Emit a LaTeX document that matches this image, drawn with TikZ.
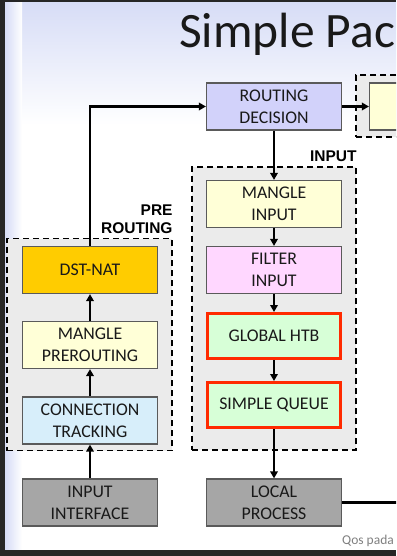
\documentclass[tikz,border=0pt]{standalone}
\usepackage{fontspec}
\setmainfont{Carlito}
\newfontfamily\labelfont{Liberation Sans}
\usetikzlibrary{arrows.meta,positioning}
\definecolor{FrameDark}{HTML}{262626}
\definecolor{SlideTint}{HTML}{D6DCF6}
\definecolor{GroupBg}{HTML}{EBEBEB}
\definecolor{RouteFill}{HTML}{D2D2FA}
\definecolor{MangleFill}{HTML}{FFFFD7}
\definecolor{FilterFill}{HTML}{FFD7FF}
\definecolor{QueueFill}{HTML}{D7FFD7}
\definecolor{NatFill}{HTML}{FFCC00}
\definecolor{TrackFill}{HTML}{D7EEFA}
\definecolor{PortFill}{HTML}{A6A6A6}
\definecolor{QueueRed}{HTML}{FF2A00}
\definecolor{BoxEdge}{HTML}{5A5A5A}
\tikzset{
  qf box/.style={
    draw=BoxEdge,
    line width=1.2pt,
    align=center,
    font=\fontsize{17.8}{22}\selectfont,
    text=black!90,
    minimum width=135pt,
    minimum height=47pt,
    inner sep=0pt
  },
  qf queue/.style={
    qf box,
    fill=QueueFill,
    draw=QueueRed,
    line width=3pt,
    minimum width=133pt,
    minimum height=45pt
  },
  qf group/.style={
    draw=black,
    fill=GroupBg,
    line width=1.5pt,
    dash pattern=on 6pt off 4pt,
    inner sep=0pt
  },
  qf label/.style={
    font=\labelfont\bfseries\fontsize{15.5}{18}\selectfont,
    align=right,
    inner xsep=0pt,
    inner ysep=4pt
  },
  qf arrow/.style={
    -{Triangle[length=7pt,width=7.5pt]},
    draw=black,
    line width=2.2pt
  },
  qf line/.style={
    draw=black,
    line width=2.2pt
  }
}

\begin{document}
\begin{tikzpicture}[x=1pt, y=-1pt]
        \clip (0,0) rectangle (396,556);
        % slide background
        \fill[white] (0,0) rectangle (396,556);
        \shade[top color=SlideTint, bottom color=white] (0,0) rectangle (396,125);
        \shade[left color=SlideTint, right color=white] (5,0) rectangle (22,550);
        \fill[FrameDark] (0,0) rectangle (5,556);
        \fill[FrameDark] (0,0) rectangle (396,2);
        \fill[FrameDark] (0,550) rectangle (396,556);

        \node[font=\fontsize{49.5}{54}\selectfont, text=black!90, anchor=base west, inner sep=0pt] (title) at (179,48) {Simple Pac};

        % chain groups
        \node[qf group, minimum width=164pt, minimum height=283pt] (inputgrp) at (274,308.5) {};
        \node[qf group, minimum width=165pt, minimum height=212pt] (pregrp) at (89.5,344.5) {};
        \node[qf group, minimum width=114pt, minimum height=62pt] (fwdgrp) at (413,106) {};
        \node[qf label, anchor=south east] (inputlbl) at (inputgrp.north east) {INPUT};
        \node[qf label, anchor=south east] (prelbl) at (pregrp.north east) {PRE\\ROUTING};

        % boxes
        \node[qf box, fill=RouteFill] (rd) at (274,106.5) {ROUTING\\DECISION};
        \node[qf box, fill=MangleFill] (fwd) at (437,106.5) {};
        \node[qf box, fill=MangleFill] (mi) at (274,204) {MANGLE\\INPUT};
        \node[qf box, fill=FilterFill] (fi) at (274,270) {FILTER\\INPUT};
        \node[qf queue] (htb) at (274,336) {GLOBAL HTB};
        \node[qf queue] (sq) at (274,405) {SIMPLE QUEUE};
        \node[qf box, fill=PortFill] (lp) at (274,502.5) {LOCAL\\PROCESS};

        \node[qf box, fill=NatFill] (dnat) at (90,270) {DST-NAT};
        \node[qf box, fill=MangleFill] (mp) at (90,345) {MANGLE\\PREROUTING};
        \node[qf box, fill=TrackFill] (ct) at (90,420.5) {CONNECTION\\TRACKING};
        \node[qf box, fill=PortFill] (ii) at (90,502.5) {INPUT\\INTERFACE};

        % connectors
        \draw[qf arrow] (ii) -- (ct);
        \draw[qf arrow] (ct) -- (mp);
        \draw[qf arrow] (mp) -- (dnat);
        \draw[qf arrow] (dnat.north) |- (rd.west);
        \draw[qf arrow] (rd) -- (fwd);
        \draw[qf arrow] (rd) -- (mi);
        \draw[qf arrow] (mi) -- (fi);
        \draw[qf arrow] (fi) -- (htb);
        \draw[qf arrow] (htb) -- (sq);
        \draw[qf arrow] (sq) -- (lp);
        \coordinate (lpout) at (400,502.5);
        \draw[qf line] (lp) -- (lpout);

        \node[font=\fontsize{13.5}{15}\selectfont, text=gray, anchor=base west, inner sep=0pt] (credit) at (342,544) {Qos pada};
      \end{tikzpicture}
\end{document}
